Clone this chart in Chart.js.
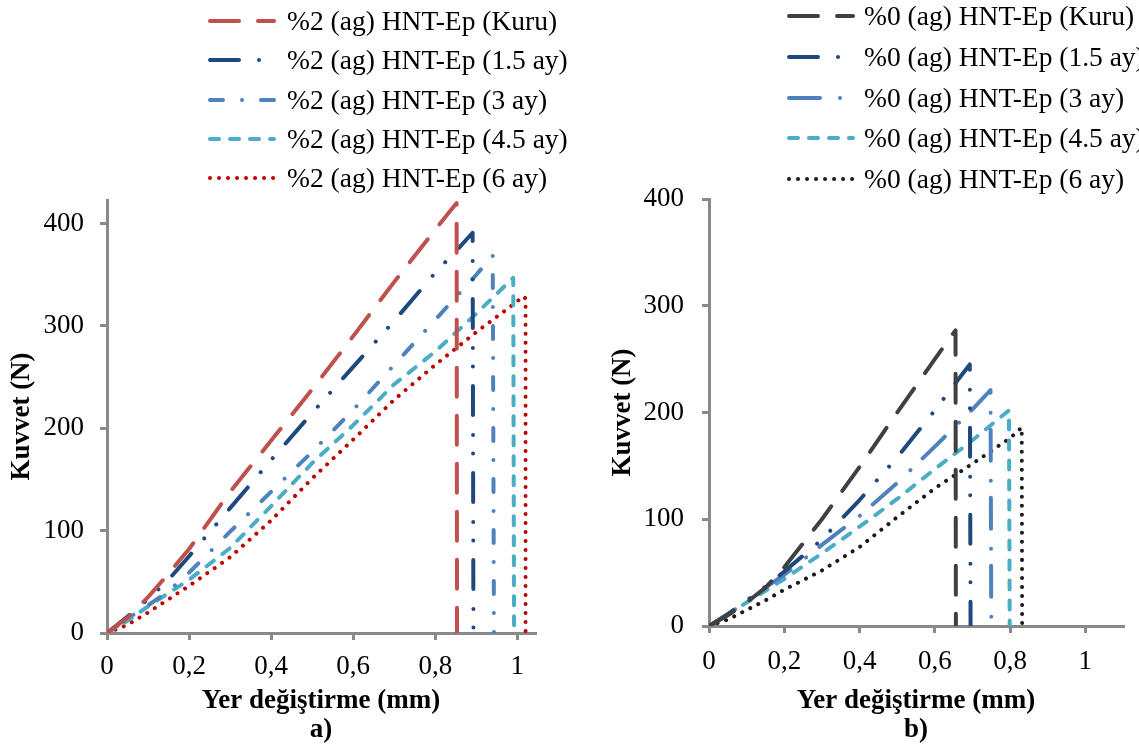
<!DOCTYPE html>
<html>
<head>
<meta charset="utf-8">
<script src="https://cdn.jsdelivr.net/npm/chart.js@4.4.1/dist/chart.umd.min.js"></script>
<style>
  html, body { margin: 0; padding: 0; background: #fff; }
  body { width: 1139px; height: 747px; overflow: hidden; position: relative; font-family: 'Liberation Serif', 'Times New Roman', serif; }
  .panel { position: absolute; top: 0; height: 747px; }
  #panelA { left: 0; width: 570px; }
  #panelB { left: 570px; width: 569px; }
  .legend-row { position: absolute; height: 40px; display: flex; align-items: center; font-size: 27.5px; color: #000; white-space: nowrap; }
  .legend-row svg { display: block; }
</style>
</head>
<body>
<div class="panel" id="panelA"><canvas id="chartA"></canvas></div>
<div class="panel" id="panelB"><canvas id="chartB"></canvas></div>
<div id="legendA"></div>
<div id="legendB"></div>
<script>
// a) %2 (ag) HNT-Ep  -- x: Yer değiştirme (mm), y: Kuvvet (N)
const x2Kuru = [0, 0.05, 0.1, 0.15, 0.2, 0.3, 0.4, 0.5, 0.6, 0.7, 0.8, 0.852, 0.853];
const y2Kuru = [0, 15, 35, 58, 82, 138, 188, 238, 290, 343, 394, 420, 0];
const x2Ay15 = [0, 0.05, 0.1, 0.15, 0.2, 0.3, 0.4, 0.5, 0.6, 0.7, 0.8, 0.857, 0.891, 0.893];
const y2Ay15 = [0, 16, 33, 52, 75, 122, 169, 215, 260, 305, 352, 376, 391, 0];
const x2Ay3 = [0, 0.05, 0.1, 0.15, 0.2, 0.3, 0.4, 0.5, 0.6, 0.7, 0.8, 0.9, 0.94, 0.943];
const y2Ay3 = [0, 14, 27, 41, 59, 99, 138, 177, 218, 262, 306, 350, 369, 0];
const x2Ay45 = [0, 0.05, 0.1, 0.15, 0.2, 0.3, 0.4, 0.5, 0.6, 0.7, 0.8, 0.9, 0.99, 0.992];
const y2Ay45 = [0, 12, 26, 39, 52, 83, 124, 166, 203, 243, 275, 312, 347, 0];
const x2Ay6 = [0, 0.05, 0.1, 0.15, 0.2, 0.3, 0.4, 0.5, 0.6, 0.7, 0.8, 0.9, 1.0, 1.012, 1.02, 1.02];
const y2Ay6 = [0, 8, 20, 33, 46, 74, 110, 151, 189, 228, 262, 294, 324, 329, 327, 0];

// b) %0 (ag) HNT-Ep
const x0Kuru = [0, 0.05, 0.1, 0.15, 0.2, 0.3, 0.4, 0.5, 0.6, 0.655, 0.656];
const y0Kuru = [0, 10, 22, 36, 55, 100, 149, 200, 250, 277, 0];
const x0Ay15 = [0, 0.05, 0.1, 0.15, 0.2, 0.3, 0.4, 0.5, 0.6, 0.66, 0.693, 0.695];
const y0Ay15 = [0, 11, 24, 37, 51, 81, 118, 158, 202, 230, 245, 0];
const x0Ay3 = [0, 0.05, 0.1, 0.15, 0.2, 0.3, 0.4, 0.5, 0.6, 0.7, 0.748, 0.75];
const y0Ay3 = [0, 11, 23, 36, 48, 76, 103, 134, 168, 203, 221, 0];
const x0Ay45 = [0, 0.05, 0.1, 0.15, 0.2, 0.3, 0.4, 0.5, 0.6, 0.7, 0.797, 0.799];
const y0Ay45 = [0, 11, 22, 33, 44, 68, 93, 119, 147, 174, 202, 0];
const x0Ay6 = [0, 0.05, 0.1, 0.15, 0.2, 0.3, 0.4, 0.5, 0.6, 0.7, 0.8, 0.831, 0.832];
const y0Ay6 = [0, 6, 15, 24, 34, 52, 74, 102, 129, 152, 176, 186, 0];

const labelsA = ['%2 (ag) HNT-Ep (Kuru)', '%2 (ag) HNT-Ep (1.5 ay)', '%2 (ag) HNT-Ep (3 ay)', '%2 (ag) HNT-Ep (4.5 ay)', '%2 (ag) HNT-Ep (6 ay)'];
const labelsB = ['%0 (ag) HNT-Ep (Kuru)', '%0 (ag) HNT-Ep (1.5 ay)', '%0 (ag) HNT-Ep (3 ay)', '%0 (ag) HNT-Ep (4.5 ay)', '%0 (ag) HNT-Ep (6 ay)'];

// styles
const colorsA = ['#C0504D', '#1F497D', '#4F81BD', '#4BACC6', '#C00000'];
const colorsB = ['#404040', '#1F497D', '#4F81BD', '#4BACC6', '#1A1A1A'];
const LONG_DASH = [29, 19];
const DASH_DOT_DOT = [29, 20, 0.01, 18.5, 0.01, 19.5];
const DASH_DOT = [13, 19, 0.01, 19];
const LONG_DASH_DOT = [31, 20, 0.01, 17];
const DASH = [9, 11];
const DOT = [0.01, 9];
const dashesA = [LONG_DASH, DASH_DOT_DOT, DASH_DOT, DASH, DOT];
const dashesB = [LONG_DASH, DASH_DOT_DOT, LONG_DASH_DOT, DASH, DOT];
const LINE_W = 4;
const AXIS_GRAY = '#898989';
const FONT = "'Liberation Serif', 'Times New Roman', serif";

function formatComma(v) {
  return String(Math.round(v * 10) / 10).replace('.', ',');
}

function makeChart(id, xs, ys, labels, colors, dashes, cfg) {
  const datasets = xs.map((xArr, i) => ({
    label: labels[i],
    data: xArr.map((x, j) => ({ x, y: ys[i][j] })),
    showLine: true,
    borderColor: colors[i],
    borderWidth: LINE_W,
    borderDash: dashes[i],
    borderCapStyle: 'round',
    borderJoinStyle: 'round',
    pointRadius: 0,
    fill: false,
    tension: 0
  }));

  return new Chart(document.getElementById(id), {
    type: 'scatter',
    data: { datasets },
    options: {
      responsive: true,
      maintainAspectRatio: false,
      animation: false,
      layout: { padding: { left: 0, top: cfg.top, right: cfg.right, bottom: 0 } },
      plugins: { legend: { display: false }, tooltip: { enabled: false } },
      scales: {
        x: {
          type: 'linear',
          min: 0,
          max: cfg.xMax,
          ticks: {
            stepSize: 0.2, includeBounds: false, autoSkip: false, maxRotation: 0,
            padding: cfg.xTickPad, color: '#000', font: { family: FONT, size: 27 },
            callback: formatComma
          },
          grid: { drawOnChartArea: false, drawTicks: true, tickLength: 7, color: AXIS_GRAY, lineWidth: 3 },
          border: { color: AXIS_GRAY, width: 3 },
          title: {
            display: true, text: ['Yer değiştirme (mm)', cfg.caption], color: '#000',
            font: { family: FONT, size: 27, weight: 'bold', lineHeight: 1.05 },
            padding: { top: 0, bottom: 3 }
          },
          afterFit: s => { s.height = cfg.xHeight; }
        },
        y: {
          type: 'linear',
          min: 0,
          max: cfg.yMax,
          ticks: {
            stepSize: 100, includeBounds: false,
            padding: cfg.yTickPad, color: '#000', font: { family: FONT, size: 27 }
          },
          grid: { drawOnChartArea: false, drawTicks: true, tickLength: 7, color: AXIS_GRAY, lineWidth: 3 },
          border: { color: AXIS_GRAY, width: 3 },
          title: {
            display: true, text: 'Kuvvet (N)', color: '#000',
            font: { family: FONT, size: 27, weight: 'bold', lineHeight: 1.05 },
            padding: { top: cfg.yTitlePad, bottom: 0 }
          },
          afterFit: s => { s.width = cfg.yWidth; }
        }
      }
    }
  });
}

function buildLegend(id, labels, colors, dashes, pos) {
  const el = document.getElementById(id);
  el.innerHTML = labels.map((label, i) => `
    <div class="legend-row" style="left:${pos.left}px; top:${pos.firstCenter + i * pos.step - 20}px">
      <svg width="${pos.lineW}" height="10" style="margin-right:${pos.gap}px">
        <line x1="2" y1="5" x2="${pos.lineW - 2}" y2="5" stroke="${colors[i]}" stroke-width="${LINE_W}"
          stroke-linecap="round" stroke-dasharray="${dashes[i].join(' ')}"></line>
      </svg>
      <span>${label}</span>
    </div>
  `).join('');
}

makeChart('chartA',
  [x2Kuru, x2Ay15, x2Ay3, x2Ay45, x2Ay6],
  [y2Kuru, y2Ay15, y2Ay3, y2Ay45, y2Ay6],
  labelsA, colorsA, dashesA,
  { top: 200, right: 35, xMax: 1.043, yMax: 423, xHeight: 114, yWidth: 107, xTickPad: 11, yTickPad: 16, yTitlePad: 8, caption: 'a)' });

makeChart('chartB',
  [x0Kuru, x0Ay15, x0Ay3, x0Ay45, x0Ay6],
  [y0Kuru, y0Ay15, y0Ay3, y0Ay45, y0Ay6],
  labelsB, colorsB, dashesB,
  { top: 199, right: 16, xMax: 1.1, yMax: 400, xHeight: 121, yWidth: 139, xTickPad: 13, yTickPad: 18, yTitlePad: 39, caption: 'b)' });

buildLegend('legendA', labelsA, colorsA, dashesA, { left: 208, firstCenter: 21, step: 39.25, lineW: 68, gap: 11 });
buildLegend('legendB', labelsB, colorsB, dashesB, { left: 787, firstCenter: 16, step: 40.75, lineW: 68, gap: 9 });
</script>
</body>
</html>
